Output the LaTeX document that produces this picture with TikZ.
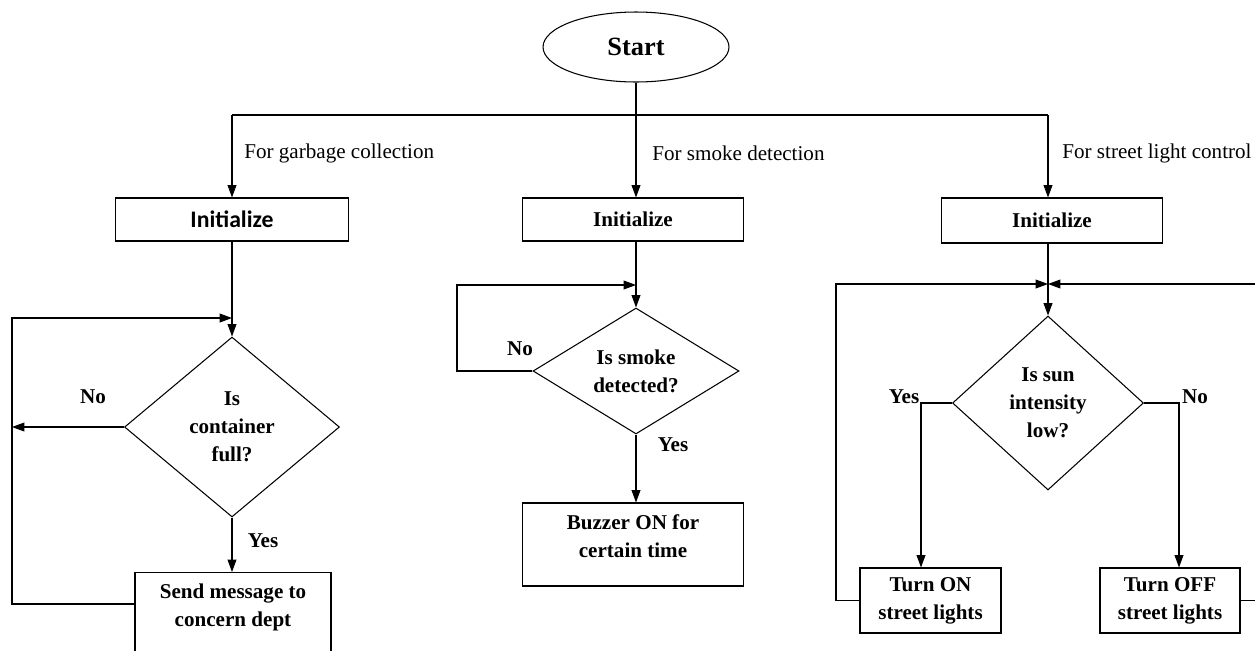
\documentclass[tikz,border=0pt]{standalone}
\usepackage{fontspec}
\setmainfont{Liberation Serif}
\newfontfamily\calfont{Carlito}
\usetikzlibrary{arrows.meta,shapes.geometric}

\begin{document}
\begin{tikzpicture}[x=0.02cm,y=-0.02cm,>={Triangle[length=7pt,width=5pt]},line width=0.6pt,
		box/.style={draw, rectangle, inner sep=2pt, align=center, font=\bfseries\fontsize{12}{16}\selectfont},
		decision/.style={draw, diamond, inner sep=0pt, align=center, font=\bfseries\fontsize{12}{16}\selectfont},
		answer/.style={font=\bfseries\fontsize{12}{14}\selectfont},
		branch/.style={anchor=west, font=\fontsize{12}{14}\selectfont}]
		\clip (0,0) rectangle (1255,650);
		
		% start and branches
		\node[draw, ellipse, minimum width=3.72cm, minimum height=1.4cm, font=\bfseries\fontsize{15}{18}\selectfont] (start) at (636,47) {Start};
		\coordinate (sp1) at (232,115);
		\coordinate (sp2) at (636,115);
		\coordinate (sp3) at (1048,115);
		\draw (start.south) -- (sp2);
		\draw (sp1) -- (sp3);
		\node[branch] at (238,153) {For garbage collection};
		\node[branch] at (646,153) {For smoke detection};
		\node[branch] at (1056,153) {For street light control};
		
		% init boxes
		\node[box, minimum width=4.66cm, minimum height=0.86cm, font=\calfont\bfseries\fontsize{13.5}{16}\selectfont] (init1) at (232,219.5) {Initialize};
		\node[box, minimum width=4.42cm, minimum height=0.86cm] (init2) at (633,219.5) {Initialize};
		\node[box, minimum width=4.42cm, minimum height=0.9cm] (init3) at (1052,220.5) {Initialize};
		\draw[->] (sp1) -- (sp1 |- init1.north);
		\draw[->] (sp2) -- (sp2 |- init2.north);
		\draw[->] (sp3) -- (sp3 |- init3.north);
		
		% garbage collection
		\node[decision, minimum width=4.3cm, minimum height=3.6cm] (d1) at (232,427) {Is\\container\\full?};
		\node[draw, minimum width=3.92cm, minimum height=1.8cm, anchor=north] (send) at (233,572) {};
		\node[box, draw=none] (sendtxt) at (233,607) {Send message to\\concern dept};
		\coordinate (j1) at (232,318);
		\coordinate (lrail) at (12,427);
		\draw (sp1 |- init1.south) -- (j1);
		\draw[->] (j1) -- (d1.north);
		\draw[->] (d1.south) -- (d1.south |- send.north);
		\draw[->] (send.west |- 0,604) -- (12,604) -- (12,318) -- (j1);
		\draw[->] (d1.west) -- (lrail);
		\node[answer] at (93,397) {No};
		\node[answer] at (263,541) {Yes};
		
		% smoke detection
		\node[decision, minimum width=4.12cm, minimum height=2.52cm, shape aspect=2] (d2) at (636,371) {Is smoke\\detected?};
		\node[draw, minimum width=4.42cm, minimum height=1.66cm] (buzz) at (633,544.5) {};
		\node[box, draw=none] (buzztxt) at (633,536) {Buzzer ON for\\certain time};
		\coordinate (j2) at (636,285);
		\draw (sp2 |- init2.south) -- (j2);
		\draw[->] (j2) -- (d2.north);
		\draw[->] (d2.west) -- (457,371) -- (457,285) -- (j2);
		\draw[->] (d2.south) -- (d2.south |- buzz.north);
		\node[answer] at (520,349) {No};
		\node[answer] at (673,445) {Yes};
		
		% street light control
		\node[decision, minimum width=3.82cm, minimum height=3.48cm] (d3) at (1048,403) {Is sun\\intensity\\low?};
		\node[box, minimum width=2.82cm, minimum height=1.3cm] (ton) at (930.5,600.5) {Turn ON\\street lights};
		\node[box, minimum width=2.8cm, minimum height=1.3cm] (toff) at (1170,600.5) {Turn OFF\\street lights};
		\coordinate (j3) at (1048,284);
		\coordinate (yesc) at (921,403);
		\coordinate (noc) at (1179,403);
		\draw (sp3 |- init3.south) -- (j3);
		\draw[->] (j3) -- (d3.north);
		\draw[->] (d3.west) -- (yesc) -- (yesc |- ton.north);
		\draw[->] (d3.east) -- (noc) -- (noc |- toff.north);
		\draw[->] (ton.west) -- (836,600.5) -- (836,284) -- (j3);
		\draw[->] (toff.east) -- (1262,600.5) -- (1262,284) -- (j3);
		\node[answer] at (904,397) {Yes};
		\node[answer] at (1195,397) {No};
	\end{tikzpicture}
\end{document}
